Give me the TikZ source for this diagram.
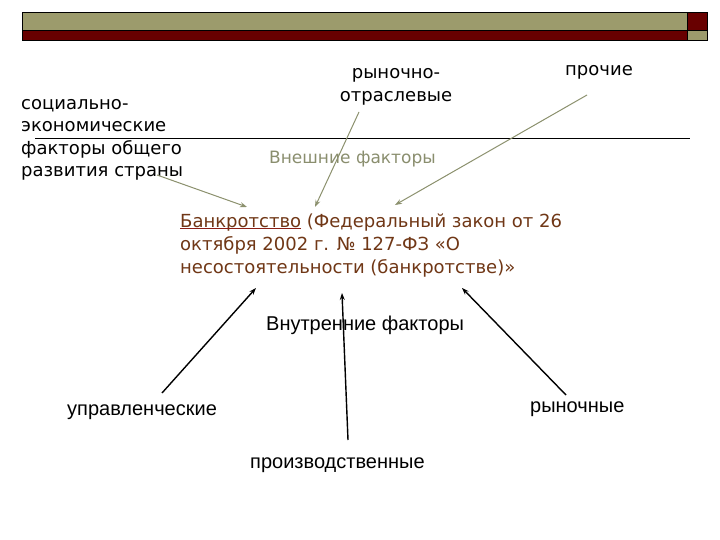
\documentclass[tikz,border=0pt]{standalone}
\usepackage{fontspec}
\setmainfont{DejaVu Sans}
\newfontfamily\arialf{Liberation Sans}
\usetikzlibrary{arrows.meta}
\definecolor{olivebar}{RGB}{156,155,108}
\definecolor{redbar}{RGB}{104,0,0}
\definecolor{extcol}{RGB}{138,142,110}
\definecolor{arrowol}{RGB}{140,145,110}
\definecolor{bkcol}{RGB}{112,55,22}
\definecolor{ulcol}{RGB}{140,30,20}
\tikzset{
  verd/.style={inner sep=0pt, font=\fontsize{18}{22.5}\selectfont},
  narr/.style={inner sep=0pt, font=\arialf\fontsize{20}{23}\selectfont},
  extarrow/.style={draw=arrowol, line width=1pt, -{Stealth[length=7pt,width=5pt]}},
  intarrow/.style={draw=black, line width=1.4pt, -{Stealth[length=7pt,width=5pt]}},
  barbox/.style={draw=black, line width=0.6pt},
}
\begin{document}
\begin{tikzpicture}[x=1pt,y=-1pt]
\useasboundingbox[fill=white] (0,0) rectangle (720,540);
% header bar
\filldraw[barbox, fill=olivebar] (22,12) rectangle (687,30);
\filldraw[barbox, fill=redbar] (22,30) rectangle (687,40);
\filldraw[barbox, fill=redbar] (687,12) rectangle (707,30);
\filldraw[barbox, fill=olivebar] (687,30) rectangle (707,40);
% separator line
\draw[line width=0.8pt] (35,138) -- (690,138);
% texts
\node[verd, anchor=base west, align=left] (soc) at (21,177) {социально-\\экономические\\факторы общего\\развития страны};
\node[verd, anchor=base, align=center, font=\fontsize{18}{23}\selectfont] (ro) at (396,102) {рыночно-\\отраслевые};
\node[verd, anchor=base west] (pr) at (565,76) {прочие};
\node[verd, anchor=base west, text=extcol, font=\fontsize{17}{20}\selectfont] (ext) at (269,164) {Внешние факторы};
\node[verd, anchor=base west, align=left, text=bkcol, font=\fontsize{18}{23}\selectfont] (bk) at (180,273) {{\color{ulcol}\underline{\smash{\color{bkcol}Банкротство}}} (Федеральный закон от 26\\октября 2002 г. № 127-ФЗ «О\\несостоятельности (банкротстве)»};
\node[narr, anchor=base west] (int) at (266,330) {Внутренние факторы};
\node[narr, anchor=base west] (up) at (67,415) {управленческие};
\node[narr, anchor=base west] (ry) at (530,412) {рыночные};
\node[narr, anchor=base west] (pz) at (250,468) {производственные};
% arrow end points
\coordinate (a1s) at (157,175); \coordinate (a1e) at (247,207);
\coordinate (a2s) at (359,112); \coordinate (a2e) at (315,207);
\coordinate (a3s) at (587,95);  \coordinate (a3e) at (395,205);
\coordinate (b1s) at (162,393); \coordinate (b1e) at (256,288);
\coordinate (b2s) at (348,440); \coordinate (b2e) at (342,293);
\coordinate (b3s) at (566,395); \coordinate (b3e) at (462,288);
\draw[extarrow] (a1s) -- (a1e);
\draw[extarrow] (a2s) -- (a2e);
\draw[extarrow] (a3s) -- (a3e);
\draw[intarrow] (b1s) -- (b1e);
\draw[intarrow] (b2s) -- (b2e);
\draw[intarrow] (b3s) -- (b3e);
\end{tikzpicture}
\end{document}
